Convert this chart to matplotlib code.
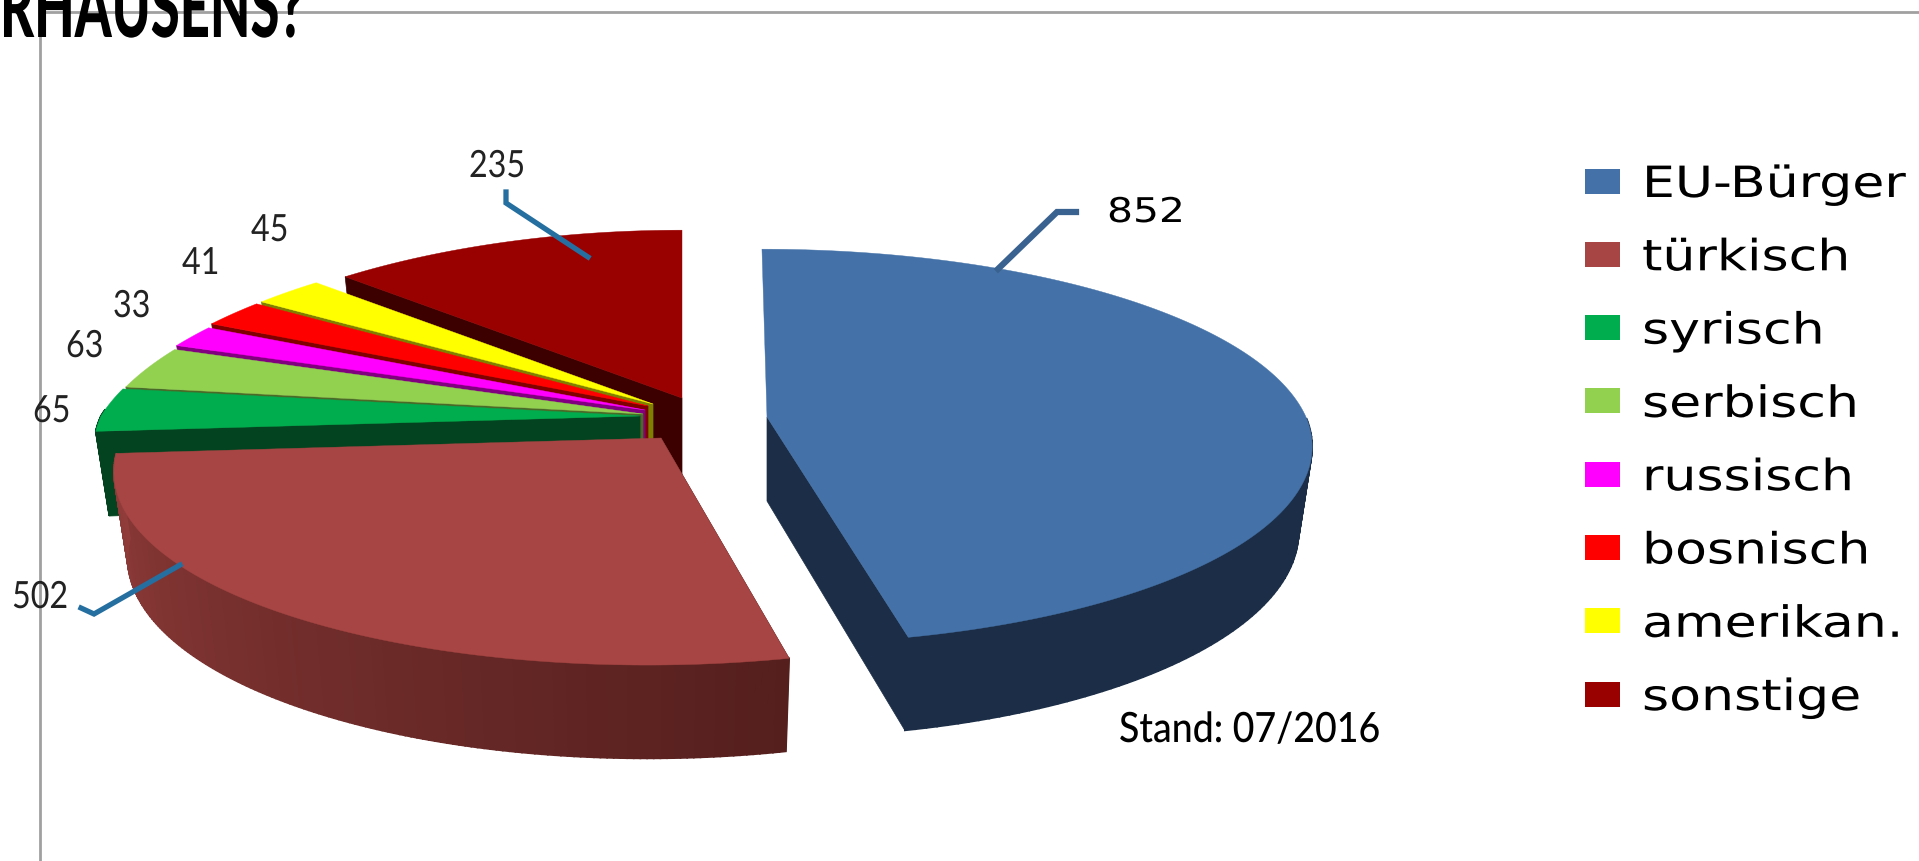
import numpy as np
import matplotlib
matplotlib.use("Agg")
import matplotlib.pyplot as plt
from matplotlib.patches import Rectangle
from matplotlib.patheffects import AbstractPathEffect
from matplotlib.transforms import Affine2D

# Daten
labels = ['EU-Bürger', 'türkisch', 'syrisch', 'serbisch', 'russisch', 'bosnisch', 'amerikan.', 'sonstige']
values = [852, 502, 65, 63, 33, 41, 45, 235]
top_colors = ['#4472A8', '#A64543', '#00AD4E', '#92D050', '#FF00FF', '#FF0000', '#FFFF00', '#990000']
wall_colors = ['#1C2E47', '#541F1D', '#03431F', '#4A6A28', '#800080', '#800000', '#808000', '#3D0000']
rim_light = ['#1C2E47', '#903C3A', '#03431F', '#4A6A28', '#800080', '#800000', '#808000', '#3D0000']

# Spitze jedes Segments in Pixeln (explodierte Darstellung)
apex_x = [767, 661, 640, 643, 645, 648, 653, 682]
apex_y = [417, 438, 416, 414, 410, 406, 404, 398]

# Perspektive
RX = 539
RY = 193
PERSP = 0.15
# hintere Stauchung je Segment, Neigung der vorderen Kante je Segment
persp_back = [0.15, 0.15, 0.22, 0.22, 0.22, 0.22, 0.22, 0.22]
lean_front = [0.0, 0.06, 0.03, 0.03, 0.03, 0.03, 0.03, 0.03]
lean_back = [0.03, 0.0, 0.0, 0.0, 0.0, 0.0, 0.0, 0.0]
DEPTH = 84
BOTTOM_SCALE = 0.975

fig = plt.figure(figsize=(19.19, 8.61), dpi=100)
ax = fig.add_axes([0, 0, 1, 1])
ax.set_xlim(0, 1919)
ax.set_ylim(861, 0)
ax.axis('off')


class Stretch(AbstractPathEffect):
    # Schrift im Original ist gestaucht bzw. gedehnt
    def __init__(self, sx, sy=1.0):
        super().__init__()
        self.sx = sx
        self.sy = sy

    def draw_path(self, renderer, gc, tpath, affine, rgbFace=None):
        renderer.draw_path(gc, tpath, Affine2D().scale(self.sx, self.sy) + affine, rgbFace)


def top_point(i, theta):
    t = np.radians(theta)
    c = np.cos(t)
    x = RX * np.sin(t) / (1 + np.where(c > 0, persp_back[i], PERSP) * c)
    y = -RY * c / (1 + PERSP * c)
    shift = -lean_front[i] * np.maximum(y, 0) + lean_back[i] * np.minimum(y, 0)
    return apex_x[i] + x + shift, apex_y[i] + y


def bottom_point(i, theta):
    x, y = top_point(i, theta)
    c = np.cos(np.radians(theta))
    return apex_x[i] + BOTTOM_SCALE * (x - apex_x[i]), y + DEPTH / (1 + 0.1 * c)


def mix(c1, c2, f):
    a = np.array(matplotlib.colors.to_rgb(c1))
    b = np.array(matplotlib.colors.to_rgb(c2))
    return a + (b - a) * f


# Winkel aus den Werten
angles = np.cumsum([0] + values) / sum(values) * 360

# Rahmen
ax.plot([40, 1919], [12, 12], color='#A0A0A0', lw=2, zorder=1)
ax.plot([40, 40], [12, 861], color='#A0A0A0', lw=2, zorder=1)

# von hinten nach vorne zeichnen
order = [7, 6, 5, 4, 3, 2, 1, 0]
z = 2
for i in order:
    t0, t1 = angles[i], angles[i + 1]
    thetas = np.linspace(t0, t1, 160)

    # Seitenwand an der Schnittkante (beim blauen Segment die vordere Kante)
    tw = t1 if i == 0 else t0
    px, py = top_point(i, tw)
    bx, by = bottom_point(i, tw)
    ax.fill([apex_x[i], px, bx, apex_x[i]], [apex_y[i], py, by, apex_y[i] + DEPTH],
            color=wall_colors[i], lw=0.5, zorder=z)

    # Aussenwand
    vis = thetas[(thetas >= 90) & (thetas <= 272)]
    for a, b in zip(vis[:-1], vis[1:]):
        col = mix(wall_colors[i], rim_light[i], (b - t0) / (t1 - t0))
        xa, ya = top_point(i, a)
        xb, yb = top_point(i, b)
        xc, yc = bottom_point(i, b)
        xd, yd = bottom_point(i, a)
        ax.fill([xa, xb, xc, xd], [ya, yb, yc, yd], color=col, lw=1.2, zorder=z)

    # Deckflaeche
    xs, ys = top_point(i, thetas)
    ax.fill(np.r_[apex_x[i], xs], np.r_[apex_y[i], ys], color=top_colors[i], lw=0.3, zorder=z + 0.5)
    z += 1

# Beschriftung der Werte
label_pos = [(1107, 222), (12, 608), (33, 422), (66, 357), (113, 317), (182, 274), (251, 241), (469, 177)]
for i, (lx, ly) in enumerate(label_pos):
    if i == 0:
        ax.text(lx, ly, str(values[i]), fontsize=24.5, family='DejaVu Sans', ha='left', va='baseline', zorder=20,
                path_effects=[Stretch(1.2)])
    else:
        ax.text(lx, ly, str(values[i]), fontsize=27, family='Lato', color='#222222', ha='left', va='baseline', zorder=20,
                path_effects=[Stretch(0.86)])

# Fuehrungslinien
ax.plot([998, 1057, 1076], [269, 212, 212], color='#3A6290', lw=4.5, solid_joinstyle='miter', zorder=20)
ax.plot([506, 506, 588], [192, 203, 257], color='#256FA0', lw=3.8, solid_joinstyle='miter', zorder=20)
ax.plot([180, 94, 81], [565, 614, 608], color='#256FA0', lw=3.8, solid_joinstyle='miter', zorder=20)

ax.text(1119, 742, 'Stand: 07/2016', fontsize=30, family='Lato', fontweight='medium', color='black',
        ha='left', va='baseline', zorder=20, path_effects=[Stretch(0.9)])

# Legende
for i, name in enumerate(labels):
    ly = 181 + 73.3 * i
    ax.add_patch(Rectangle((1585, ly - 12.5), 35, 25, color=top_colors[i], lw=0, zorder=20))
    ax.text(1642, ly + 16, name, fontsize=31, family='DejaVu Sans', color='black', ha='left', va='baseline', zorder=20,
            path_effects=[Stretch(1.21)])

# abgeschnittener Titel
ax.text(0, 37, 'RHAUSENS?', fontsize=62, family='Lato', fontweight='black', color='black',
        ha='left', va='baseline', zorder=30, path_effects=[Stretch(0.61)])

fig.savefig('out.png', dpi=100)
